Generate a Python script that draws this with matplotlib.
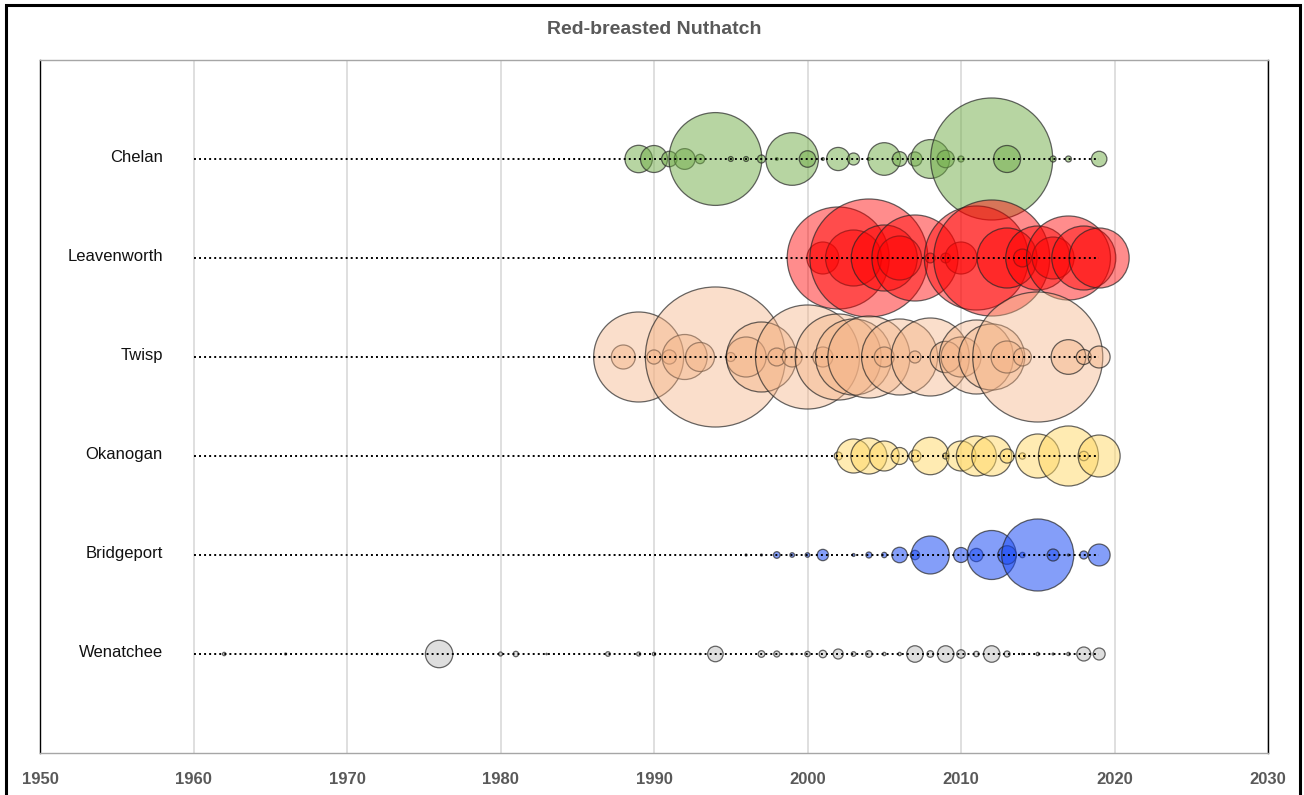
import matplotlib
matplotlib.use("Agg")
import matplotlib.pyplot as plt
import matplotlib.colors as mc
from matplotlib.patches import Rectangle

plt.rcParams['font.family'] = ['Liberation Sans', 'DejaVu Sans']

title = "Red-breasted Nuthatch"
regions = ["Chelan", "Leavenworth", "Twisp", "Okanogan", "Bridgeport", "Wenatchee"]
row_pos = [6, 5, 4, 3, 2, 1]
line_start, line_end = 1960, 2019
x_ticks = [1950, 1960, 1970, 1980, 1990, 2000, 2010, 2020, 2030]

chelan_years = [1989, 1990, 1991, 1992, 1993, 1994, 1995, 1996, 1997, 1998, 1999, 2000, 2001,
                2002, 2003, 2004, 2005, 2006, 2007, 2008, 2009, 2010, 2012, 2013, 2016, 2017, 2019]
chelan_counts = [94, 91, 30, 54, 11, 1076, 3, 3, 8, 1, 346, 34, 1,
                 67, 18, 1, 133, 27, 25, 188, 38, 4.5, 1860, 91, 4.5, 4.5, 30]

leavenworth_years = [2001, 2002, 2003, 2004, 2005, 2006, 2007, 2008, 2009, 2010,
                     2011, 2012, 2013, 2014, 2015, 2016, 2017, 2018, 2019]
leavenworth_counts = [128, 1300, 392, 1740, 545, 242, 925, 12, 12, 128,
                      1352, 1682, 450, 40, 512, 220, 882, 512, 450]

twisp_years = [1988, 1989, 1990, 1991, 1992, 1993, 1994, 1995, 1996, 1997, 1998, 1999, 2000,
               2001, 2002, 2003, 2004, 2005, 2006, 2007, 2008, 2009, 2010, 2011, 2012, 2013,
               2014, 2015, 2017, 2018, 2019]
twisp_counts = [72, 1012, 25, 25, 253, 105, 2450, 10, 200, 612, 40, 50, 1352,
                50, 925, 722, 840, 50, 722, 18, 760, 122, 200, 685, 545, 128,
                40, 2112, 150, 28, 60]

okanogan_years = [2002, 2003, 2004, 2005, 2006, 2007, 2008, 2009, 2010, 2011, 2012,
                  2013, 2014, 2015, 2017, 2018, 2019]
okanogan_counts = [8, 145, 162, 112, 36, 18, 175, 4.5, 112, 200, 200,
                   25, 5, 242, 450, 11, 220]

bridgeport_years = [1996, 1997, 1998, 1999, 2000, 2001, 2003, 2004, 2005, 2006, 2007, 2008,
                    2010, 2011, 2012, 2013, 2014, 2015, 2016, 2017, 2018, 2019]
bridgeport_counts = [0.5, 0.5, 5.5, 2.6, 2.6, 16, 1.1, 4.5, 3.6, 30, 11, 180,
                     28, 22, 300, 43, 3.6, 648, 18, 0.5, 8, 60]

wenatchee_years = [1962, 1966, 1972, 1976, 1980, 1981, 1983, 1987, 1989, 1990, 1993, 1994,
                   1997, 1998, 1999, 2000, 2001, 2002, 2003, 2004, 2005, 2006, 2007, 2008,
                   2009, 2010, 2011, 2012, 2013, 2014, 2015, 2016, 2017, 2018, 2019]
wenatchee_counts = [1.4, 0.5, 0.25, 94, 2, 3.6, 0.25, 2.6, 2, 1.4, 0.25, 30,
                    5.5, 4.5, 0.5, 3.6, 7, 12.5, 2.6, 5.5, 1.4, 1.4, 34, 5.5,
                    34, 9, 3.6, 34, 4.5, 0.25, 1.4, 0.5, 1.4, 24.5, 18]

series = [
    (chelan_years, chelan_counts, '#70AD47', 0.5),
    (leavenworth_years, leavenworth_counts, '#FF0000', 0.45),
    (twisp_years, twisp_counts, '#F4B183', 0.42),
    (okanogan_years, okanogan_counts, '#FFD966', 0.5),
    (bridgeport_years, bridgeport_counts, '#1F4EF5', 0.55),
    (wenatchee_years, wenatchee_counts, '#BFBFBF', 0.5),
]

SIZE_K = 4.15  # points^2 per count

fig = plt.figure(figsize=(13.04, 7.95), dpi=100)
ax = fig.add_axes([40 / 1304, 1 - 753 / 795, 1228 / 1304, 693 / 795])

for (yrs, cnts, col, a), yv in zip(series, row_pos):
    fc = mc.to_rgba(col, a)
    ax.scatter(yrs, [yv] * len(yrs), s=[c * SIZE_K for c in cnts], facecolors=[fc],
               edgecolors=[(0.15, 0.15, 0.15, 0.7)], linewidths=0.9, zorder=3)
    ax.plot([line_start, line_end], [yv, yv], color='black', lw=1.4,
            linestyle=(0, (1, 1.6)), zorder=4)

for name, yv in zip(regions, row_pos):
    ax.text(1958, yv + 0.02, name, ha='right', va='center', fontsize=12, color='#111111')

ax.set_xlim(1950, 2030)
ax.set_ylim(0, 7)
ax.set_xticks(x_ticks)
ax.set_xticklabels([str(t) for t in x_ticks], fontsize=12, fontweight='bold', color='#595959')
ax.set_yticks([])
ax.tick_params(axis='x', length=0, pad=14)
ax.grid(axis='x', color='#D9D9D9', lw=1.2, zorder=0)
ax.set_axisbelow(True)
ax.spines['left'].set_color('#000000')
ax.spines['right'].set_color('#000000')
ax.spines['top'].set_color('#A6A6A6')
ax.spines['bottom'].set_color('#A6A6A6')
for sp in ax.spines.values():
    sp.set_linewidth(1.0)

fig.text(654 / 1304, 1 - 30 / 795, title, ha='center', va='center', fontsize=14,
         fontweight='bold', color='#595959')

fig.patches.append(Rectangle((6 / 1304, -0.05), 1294 / 1304, 1 - 5 / 795 + 0.05,
                             transform=fig.transFigure, fill=False, edgecolor='black',
                             lw=2.2, zorder=10))

fig.savefig("out.png", dpi=100)
